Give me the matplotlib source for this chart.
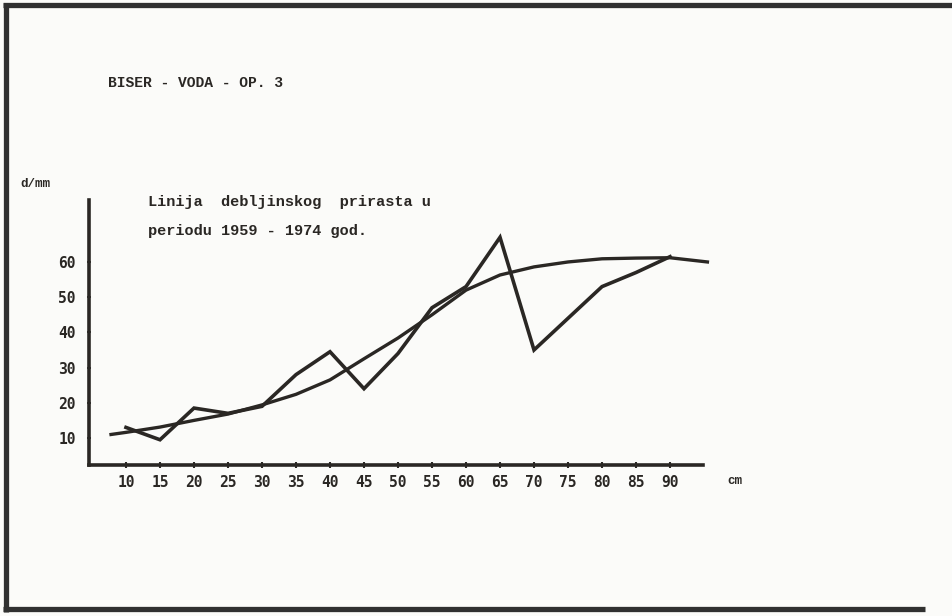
import matplotlib
matplotlib.use("Agg")
import matplotlib.pyplot as plt
from matplotlib.lines import Line2D

# debljina (cm) i prirast - izmjerene vrijednosti
debljina = [10, 15, 20, 25, 30, 35, 40, 45, 50, 55, 60, 65, 70, 75, 80, 85, 90]
prirast = [13, 9.5, 18.5, 17, 19, 28, 34.5, 24, 34, 47, 53, 67, 35, 44, 53, 57, 61.5]

# izravnata linija
izr_x = [7.8, 10, 15, 20, 25, 30, 35, 40, 45, 50, 55, 60, 65, 70, 75, 80, 85, 90, 95.5]
izr_y = [11, 11.6, 13.1, 15, 16.8, 19.4, 22.4, 26.5, 32.5, 38.4, 45, 52, 56.3, 58.6, 60, 60.9, 61.1, 61.2, 60]

x_ticks = list(range(10, 95, 5))
y_ticks = [10, 20, 30, 40, 50, 60]

ink = "#2a2724"
mono = ["Liberation Mono", "DejaVu Sans Mono"]
digits = ["DejaVu Sans Mono"]

fig = plt.figure(figsize=(9.52, 6.16), dpi=100)
fig.patch.set_facecolor("#fbfbf9")

W, H = 952, 616
ax = fig.add_axes([89 / W, (H - 465) / H, (703 - 89) / W, (465 - 200) / H])
ax.set_facecolor("none")

ax.plot(debljina, prirast, color=ink, lw=2.6, solid_joinstyle="miter")
ax.plot(izr_x, izr_y, color=ink, lw=2.4, clip_on=False)

ax.set_xlim(4.56, 94.85)
ax.set_ylim(2.33, 77.6)
ax.set_xticks(x_ticks)
ax.set_yticks(y_ticks)
ax.set_xticklabels([str(v) for v in x_ticks], family=digits, weight="bold", fontsize=10.5, color=ink)
ax.set_yticklabels([str(v) for v in y_ticks], family=digits, weight="bold", fontsize=10.5, color=ink)
ax.tick_params(axis="x", direction="inout", length=4, width=1.5, pad=5, color=ink)
ax.tick_params(axis="y", direction="inout", length=3, width=1.2, pad=8, color=ink)
for side in ["top", "right"]:
    ax.spines[side].set_visible(False)
for side in ["left", "bottom"]:
    ax.spines[side].set_linewidth(2.6)
    ax.spines[side].set_color(ink)

# natpisi
fig.text(108 / W, 1 - 83 / H, "BISER - VODA - OP. 3", family=mono, weight="bold",
         fontsize=10.5, color=ink, va="center", ha="left")
fig.text(20 / W, 1 - 184 / H, "d/mm", family=mono, weight="bold",
         fontsize=9, color=ink, va="center", ha="left")
fig.text(148 / W, 1 - 202 / H, "Linija  debljinskog  prirasta u", family=mono, weight="bold",
         fontsize=11, color=ink, va="center", ha="left")
fig.text(148 / W, 1 - 231 / H, "periodu 1959 - 1974 god.", family=mono, weight="bold",
         fontsize=11, color=ink, va="center", ha="left")
fig.text(727 / W, 1 - 481 / H, "cm", family=mono, weight="bold",
         fontsize=9, color=ink, va="center", ha="left")

# okvir lista
frame_kw = dict(color="#303030", lw=3.8, transform=fig.transFigure, solid_capstyle="butt")
fig.add_artist(Line2D([3 / W, 1], [1 - 5 / H, 1 - 5 / H], **frame_kw))
fig.add_artist(Line2D([6 / W, 6 / W], [1 - 3 / H, 1 - 612 / H], **frame_kw))
fig.add_artist(Line2D([3 / W, 925 / W], [1 - 609 / H, 1 - 609 / H], **frame_kw))

fig.savefig("out.png", dpi=100, facecolor=fig.get_facecolor())
